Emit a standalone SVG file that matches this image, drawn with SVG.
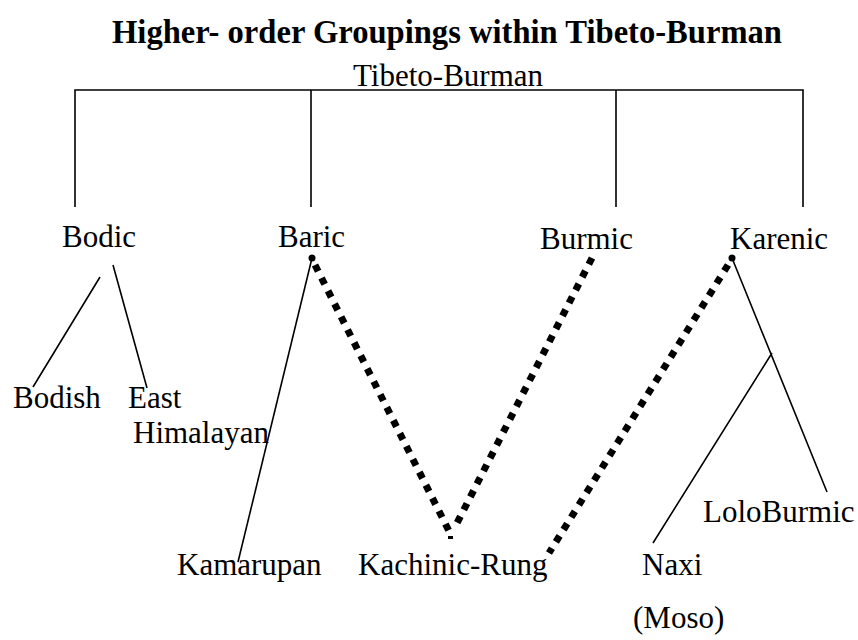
<svg xmlns="http://www.w3.org/2000/svg" width="858" height="640" viewBox="0 0 858 640">
<style>
text{font-family:"Liberation Serif","Times New Roman",serif;fill:#000}
.t{font-size:33px;font-weight:bold}
.l{font-size:31px}
.s{stroke:#000;stroke-width:1.6;fill:none}
.d{stroke:#000;stroke-width:7;fill:none;stroke-dasharray:7 7.5}
</style>
<rect width="858" height="640" fill="#fff"/>
<text class="t" x="112" y="43" textLength="670" lengthAdjust="spacingAndGlyphs">Higher- order Groupings within Tibeto-Burman</text>
<g id="root"><text class="l" x="353" y="86">Tibeto-Burman</text></g>
<g id="bodic"><text class="l" x="62" y="247">Bodic</text></g>
<g id="baric"><text class="l" x="278" y="247">Baric</text></g>
<g id="burmic"><text class="l" x="540" y="249">Burmic</text></g>
<g id="karenic"><text class="l" x="730" y="249">Karenic</text></g>
<g id="bodish"><text class="l" x="13" y="408">Bodish</text></g>
<g id="easthimalayan"><text class="l" x="128" y="408">East</text><text class="l" x="133" y="443">Himalayan</text></g>
<g id="kamarupan"><text class="l" x="177" y="575">Kamarupan</text></g>
<g id="kachinic"><text class="l" x="358" y="575">Kachinic-Rung</text></g>
<g id="naxi"><text class="l" x="642" y="575">Naxi</text><text class="l" x="633" y="628">(Moso)</text></g>
<g id="lolo"><text class="l" x="703" y="522">LoloBurmic</text></g>
<g id="connectors">
<path class="s" d="M75 207V90H803V207M311 90V207M616 90V207"/>
<path class="s" d="M100 277L33 387M113 265L147 388"/>
<path class="s" d="M312 258L238 562"/>
<path class="s" d="M732 258L827 492M772 353L653 543"/>
<circle cx="312" cy="258" r="3.5"/>
<circle cx="732" cy="258" r="3.5"/>
<path class="d" d="M315 265L450 533"/>
<path class="d" d="M592 258L455 527"/>
<path class="d" d="M728 265L549 553"/>
<rect x="448" y="536" width="5" height="3"/>
</g>
</svg>
